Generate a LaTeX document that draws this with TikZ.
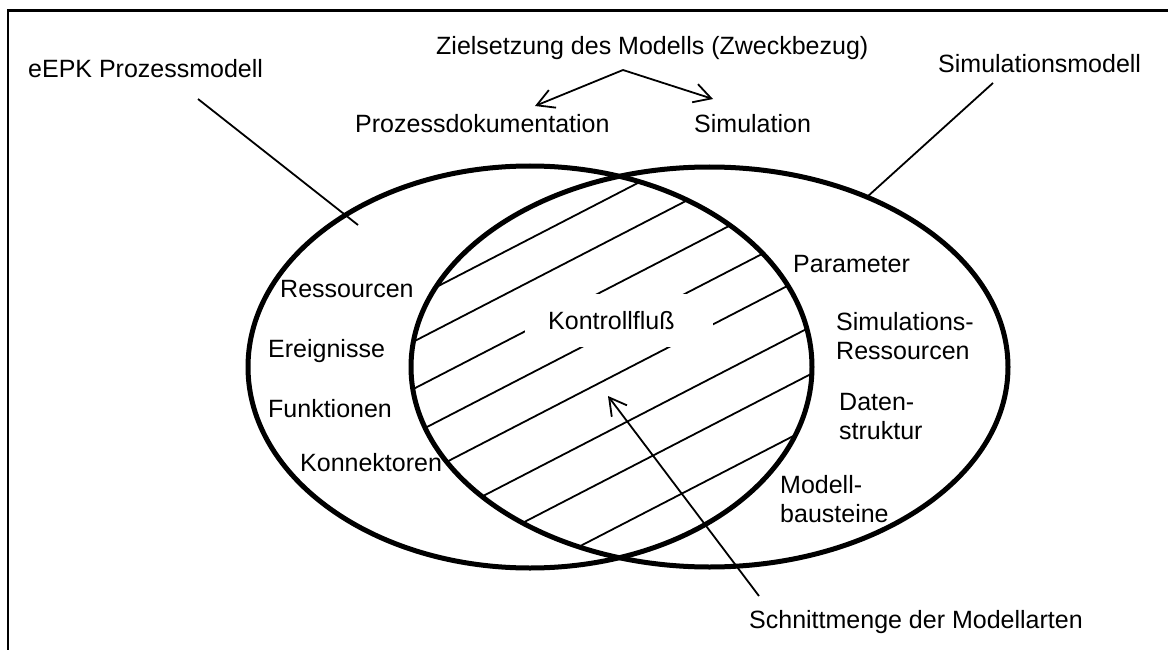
\documentclass[tikz,border=0pt]{standalone}
\usepackage{fontspec}
\setmainfont{Liberation Sans}
\usetikzlibrary{arrows.meta}
\begin{document}
\begin{tikzpicture}[x=1pt,y=-1pt,
  lbl/.style={font=\fontsize{25}{29}\selectfont, inner sep=0pt, anchor=base west},
  mlbl/.style={font=\fontsize{25}{29}\selectfont, inner sep=0pt, anchor=north west, align=left},
  setline/.style={line width=5pt},
  leader/.style={line width=1.8pt},
  barb/.style={-{Straight Barb[length=17pt,width=19pt]}}
]
\useasboundingbox (0,0) rectangle (1168,650);
\clip (0,0) rectangle (1168,650);

% frame
\draw[line width=2.7pt] (8,10.5) rectangle (1200,700);

% centres of the two model sets
\coordinate (cl) at (530,367);
\coordinate (cr) at (709.5,367);

% hatched intersection
\begin{scope}
  \clip (cl) ellipse [x radius=282, y radius=201];
  \clip (cr) ellipse [x radius=298.5, y radius=200];
  \foreach \p in {455,493,535,575,615,662,704,751} {
    \draw[leader] ({0.459*\p-0.889*900},{0.889*\p+0.459*900})
               -- ({0.459*\p+0.889*900},{0.889*\p-0.459*900});
  }
  \fill[white] (525,294) rectangle (713,347);
\end{scope}

% the two sets
\draw[setline] (cl) ellipse [x radius=282, y radius=201];
\draw[setline] (cr) ellipse [x radius=298.5, y radius=200];

% headings
\node[lbl] (eepk) at (28,78) {eEPK Prozessmodell};
\node[lbl] (ziel) at (436,55) {Zielsetzung des Modells (Zweckbezug)};
\node[lbl] (doku) at (355,133) {Prozessdokumentation};
\node[lbl] (simu) at (694,133) {Simulation};
\node[lbl] (simmod) at (938,73) {Simulationsmodell};
\node[lbl] (schnitt) at (749,628) {Schnittmenge der Modellarten};

% left set
\node[lbl] (ress) at (280,297) {Ressourcen};
\node[lbl] (ereig) at (268,357) {Ereignisse};
\node[lbl] (funk) at (268,417) {Funktionen};
\node[lbl] (konn) at (300,471) {Konnektoren};

% intersection
\node[lbl] (kontroll) at (548,329) {Kontrollfluß};

% right set
\node[lbl] (param) at (793,272) {Parameter};
\node[mlbl] (simres) at (836,312) {Simulations-\\Ressourcen};
\node[mlbl] (daten) at (839,393) {Daten-\\struktur};
\node[mlbl] (bau) at (780,475) {Modell-\\bausteine};

% leaders and arrows
\coordinate (eepk-a) at (198,99);
\coordinate (eepk-b) at (358,225);
\draw[leader] (eepk-a) -- (eepk-b);

\coordinate (simmod-a) at (993,83);
\coordinate (simmod-b) at (867,197);
\draw[leader] (simmod-a) -- (simmod-b);

\coordinate (fork) at (623,70);
\coordinate (doku-tip) at (535,106);
\coordinate (simu-tip) at (713,99);
\draw[leader,barb] (fork) -- (doku-tip);
\draw[leader,barb] (fork) -- (simu-tip);

\coordinate (schnitt-a) at (759,596);
\coordinate (schnitt-tip) at (608,396);
\draw[leader,barb] (schnitt-a) -- (schnitt-tip);
\end{tikzpicture}
\end{document}
